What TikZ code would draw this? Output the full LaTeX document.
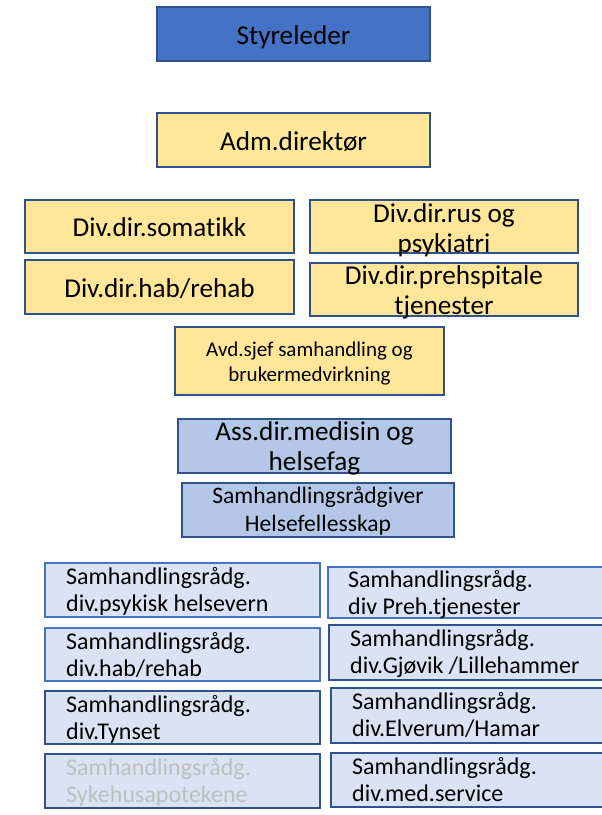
\documentclass[tikz,border=0pt]{standalone}
\usepackage{fontspec}
\setmainfont{Carlito}[Ligatures=NoCommon]
\definecolor{boardblue}{HTML}{4472C4}
\definecolor{edgeblue}{HTML}{2F528F}
\definecolor{mgmtyellow}{HTML}{FFE699}
\definecolor{staffblue}{HTML}{B4C7E7}
\definecolor{advblue}{HTML}{DAE3F3}
\definecolor{fadedtext}{HTML}{BFBFBF}
\begin{document}
\begin{tikzpicture}[x=1pt,y=-1pt,
  box/.style={draw=edgeblue, line width=2pt, inner sep=0pt, outer sep=0pt},
  board/.style={box, fill=boardblue},
  mgmt/.style={box, fill=mgmtyellow},
  staff/.style={box, fill=staffblue},
  adv/.style={box, fill=advblue},
  advlight/.style={adv, draw=boardblue},
  oneline/.style={text height=20.5pt, text depth=0pt},
  txt/.style={inner sep=0pt, align=center},
  gridtxt/.style={inner sep=0pt, align=left, anchor=north west,
    font=\fontsize{24}{26.5}\selectfont},
  big/.style={font=\fontsize{27.2}{30}\selectfont},
]
\useasboundingbox (0,0) rectangle (602,815);
\clip (0,0) rectangle (602,815);

% top of the organisation
\node[board, oneline, minimum width=273, minimum height=54, big] (styr) at (293.5,34) {Styreleder};
\node[mgmt, oneline, minimum width=273, minimum height=54, big] (adm) at (293.5,140) {Adm.direktør};

% division directors
\node[mgmt, oneline, minimum width=269, minimum height=53, big] (som) at (159.5,226.5) {Div.dir.somatikk};
\node[mgmt, minimum width=268, minimum height=53] (rus) at (444,226.5) {};
\node[txt, big] (rusT) at (444,230.5) {Div.dir.rus og\\psykiatri};
\node[mgmt, oneline, minimum width=269, minimum height=54, big] (hab) at (159.5,287) {Div.dir.hab/rehab};
\node[mgmt, minimum width=268, minimum height=53] (preh) at (444,289.5) {};
\node[txt, big] (prehT) at (444,292) {Div.dir.prehspitale\\tjenester};

% department head
\node[mgmt, minimum width=269, minimum height=68] (avd) at (309.5,361) {};
\node[txt, font=\fontsize{21}{25.5}\selectfont] (avdT) at (309.5,363.5)
  {Avd.sjef samhandling og\\brukermedvirkning};

% staff functions
\node[staff, minimum width=273, minimum height=54] (ass) at (314.5,446) {};
\node[txt, big] (assT) at (314.5,448) {Ass.dir.medisin og\\helsefag};
\node[staff, minimum width=272, minimum height=54] (srad) at (318,510) {};
\node[txt, font=\fontsize{23.6}{28}\selectfont] (sradT) at (318,511)
  {Samhandlingsrådgiver\\Helsefellesskap};

% collaboration advisers per division
\node[advlight, minimum width=275, minimum height=54] (l1) at (182.5,590) {};
\node[adv, draw=boardblue, minimum width=276, minimum height=51] (r1) at (466,592.5) {};
\node[advlight, minimum width=275, minimum height=53] (l2) at (182.5,654.5) {};
\node[adv, minimum width=275, minimum height=55] (r2) at (466.5,652.5) {};
\node[adv, minimum width=275, minimum height=53] (l3) at (182.5,717.5) {};
\node[adv, minimum width=273, minimum height=55] (r3) at (467.5,715.5) {};
\node[adv, minimum width=275, minimum height=54] (l4) at (182.5,781) {};
\node[adv, minimum width=273, minimum height=54] (r4) at (467.5,780) {};

\node[gridtxt] (l1T) at ([xshift=21,yshift=-4.5]l1.north west) {Samhandlingsrådg.\\div.psykisk helsevern};
\node[gridtxt] (r1T) at ([xshift=20,yshift=-3.5]r1.north west) {Samhandlingsrådg.\\div Preh.tjenester};
\node[gridtxt] (l2T) at ([xshift=21,yshift=-4.5]l2.north west) {Samhandlingsrådg.\\div.hab/rehab};
\node[gridtxt] (r2T) at ([xshift=21,yshift=-4.5]r2.north west) {Samhandlingsrådg.\\div.Gjøvik /Lillehammer};
\node[gridtxt] (l3T) at ([xshift=21,yshift=-4.5]l3.north west) {Samhandlingsrådg.\\div.Tynset};
\node[gridtxt] (r3T) at ([xshift=21,yshift=-4.5]r3.north west) {Samhandlingsrådg.\\div.Elverum/Hamar};
\node[gridtxt, text=fadedtext] (l4T) at ([xshift=21,yshift=-4.5]l4.north west) {Samhandlingsrådg.\\Sykehusapotekene};
\node[gridtxt] (r4T) at ([xshift=21,yshift=-4.5]r4.north west) {Samhandlingsrådg.\\div.med.service};
\end{tikzpicture}
\end{document}
